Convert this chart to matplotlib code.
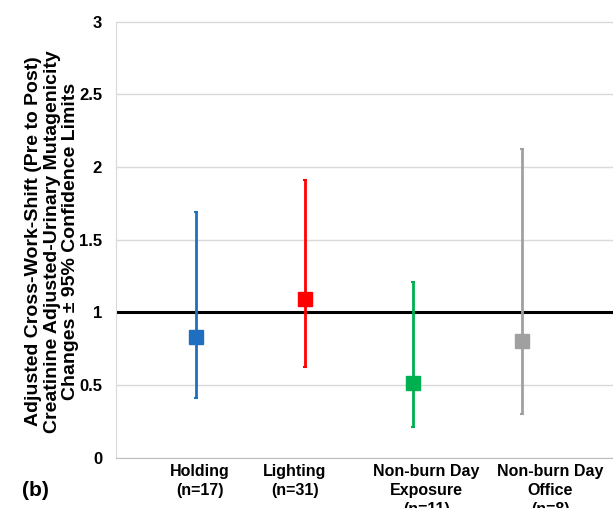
import matplotlib.pyplot as plt
import matplotlib.transforms as mtransforms

# data
groups = ["Holding\n(n=17)", "Lighting\n(n=31)",
          "Non-burn Day\nExposure\n(n=11)", "Non-burn Day\nOffice\n(n=8)"]
means = [0.83, 1.09, 0.51, 0.80]
lower = [0.41, 0.62, 0.21, 0.30]
upper = [1.69, 1.91, 1.21, 2.12]
colors = ["#1f6fc0", "#ff0000", "#00b050", "#a0a0a0"]

plt.rcParams['font.family'] = ['Liberation Sans', 'DejaVu Sans']
plt.rcParams['font.weight'] = 'bold'

fig = plt.figure(figsize=(6.13, 5.08), dpi=100)
# axes goes a bit past the right edge, like the cropped original
ax = fig.add_axes([116 / 613, 50.5 / 508, 530 / 613, 436 / 508])

xs = list(range(len(groups)))
for x, m, lo, hi, c in zip(xs, means, lower, upper, colors):
    ax.errorbar(x, m, yerr=[[m - lo], [hi - m]], fmt='s', color=c,
                ms=9.5, elinewidth=2, capsize=1.5, capthick=1.5, zorder=3)

ax.axhline(1, color='black', lw=2.2, zorder=2)

ax.set_ylim(0, 3)
ax.set_yticks([0, 0.5, 1, 1.5, 2, 2.5, 3])
ax.set_yticklabels(['0', '0.5', '1', '1.5', '2', '2.5', '3'])
ax.set_xlim(-0.736, 4.14)
ax.grid(axis='y', color='#d9d9d9', lw=1)
ax.set_axisbelow(True)
for s in ['top', 'right']:
    ax.spines[s].set_visible(False)
ax.spines['left'].set_color('#d9d9d9')
ax.spines['bottom'].set_color('#bfbfbf')
ax.tick_params(axis='y', length=0, labelsize=12, pad=10)
ax.tick_params(axis='x', length=0, labelsize=11.5, pad=5)

ax.set_xticks(xs)
ax.set_xticklabels(groups, linespacing=1.3)
shifts = [4, -10, 13, 28]
for lab, dx in zip(ax.get_xticklabels(), shifts):
    lab.set_transform(lab.get_transform() +
                      mtransforms.ScaledTranslation(dx / 100, 0, fig.dpi_scale_trans))

ax.set_ylabel("Adjusted Cross-Work-Shift (Pre to Post)\n"
              "Creatinine Adjusted-Urinary Mutagenicity\n"
              "Changes \u00b1 95% Confidence Limits",
              fontsize=14, fontweight='bold', linespacing=1.1)
ax.yaxis.set_label_coords((79 - 116) / 530, (458 - 242) / 436)

fig.text(22 / 613, 1 - 491 / 508, "(b)", fontsize=15, fontweight='bold',
         va='center')

fig.savefig("out.png", dpi=100)
